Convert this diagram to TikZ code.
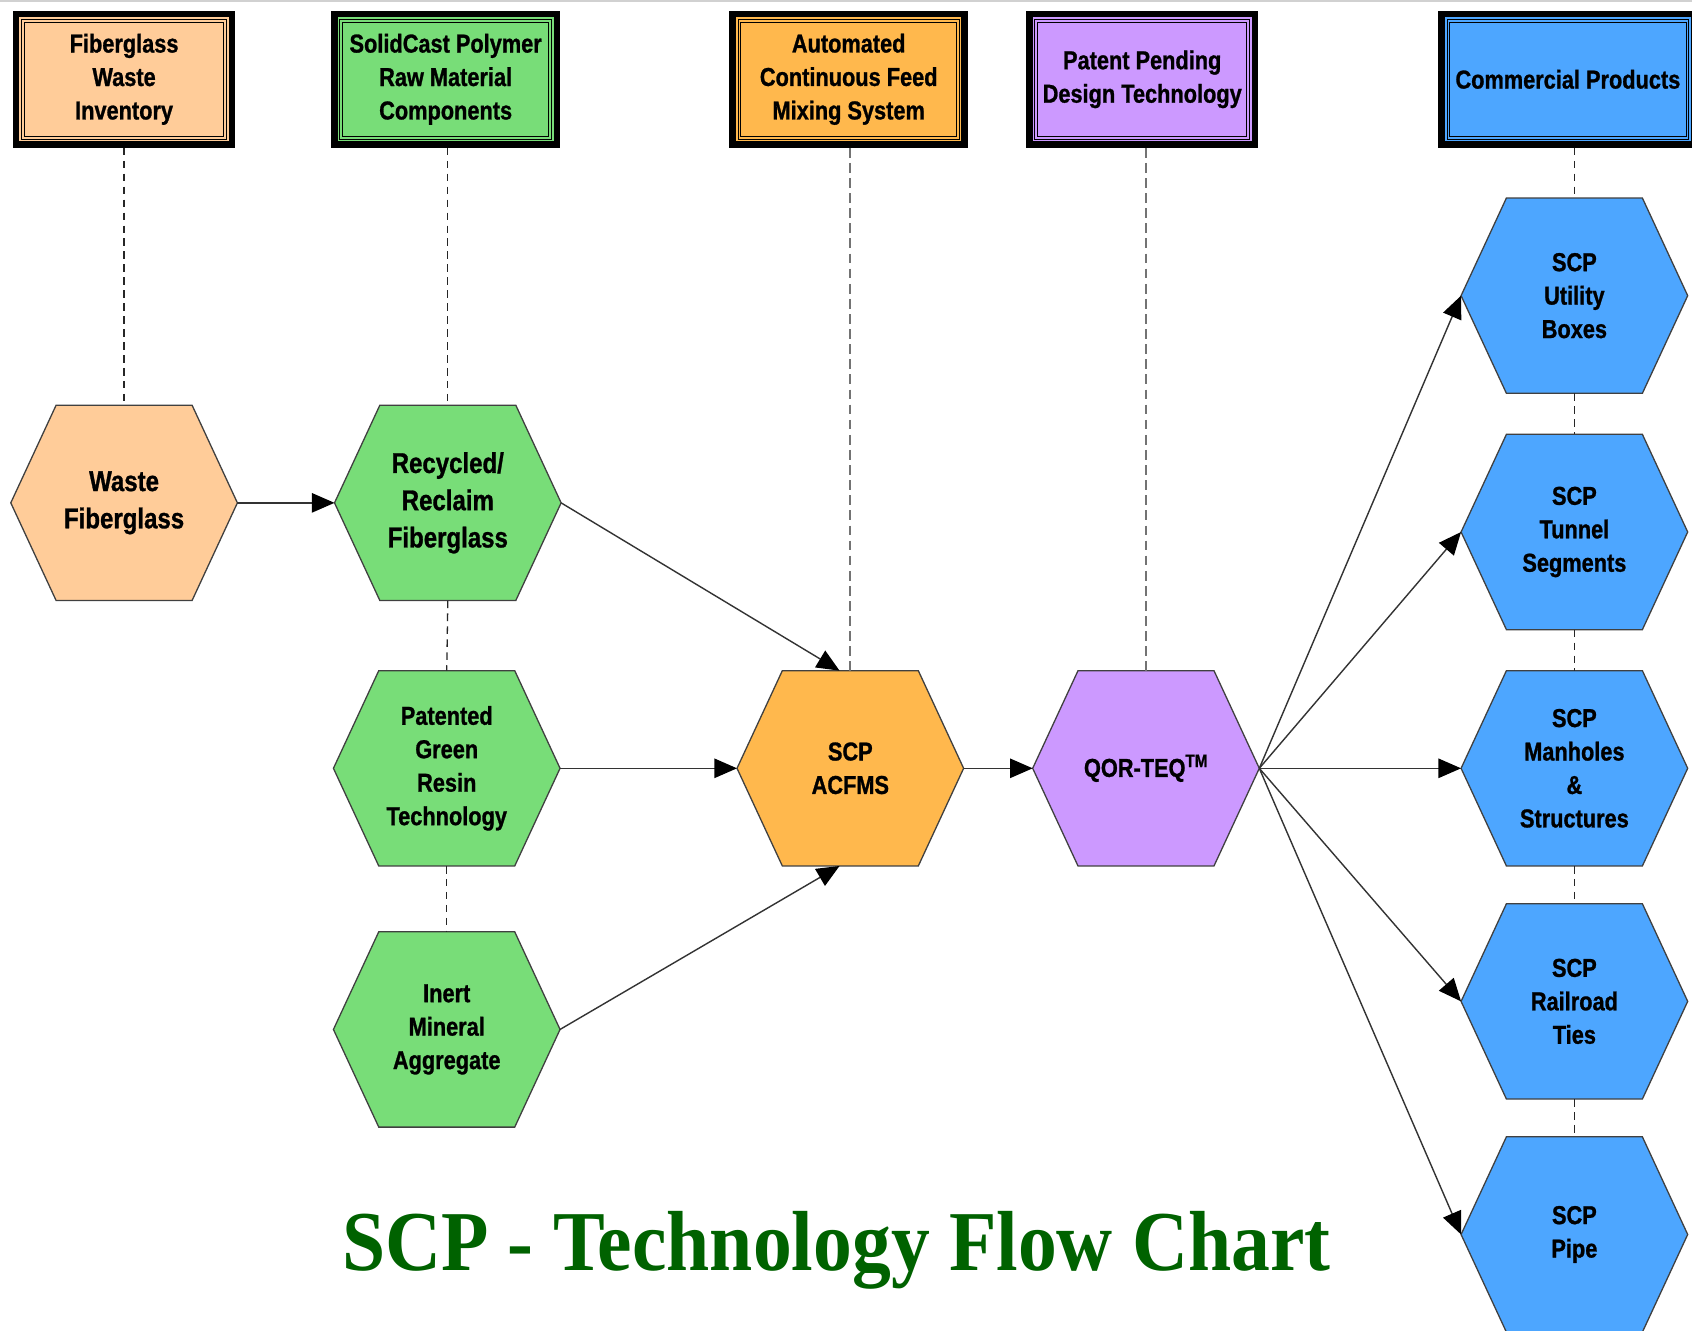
\documentclass[tikz,border=0pt]{standalone}
\usepackage{fontspec}
\usetikzlibrary{arrows.meta,calc}

\newfontfamily\lblfont[FakeStretch=0.84,FakeBold=1]{Liberation Sans}
\newfontfamily\ttlfont[FakeStretch=0.91]{Liberation Serif}

\definecolor{cpeach}{RGB}{255,204,153}
\definecolor{cgreen}{RGB}{120,221,120}
\definecolor{corange}{RGB}{255,184,77}
\definecolor{cpurple}{RGB}{204,153,255}
\definecolor{cblue}{RGB}{77,166,255}
\definecolor{ctitle}{RGB}{0,98,0}

\tikzset{
  hdr/.style={rectangle, draw=black, line width=6pt, outer sep=3pt,
    inner sep=0pt, minimum height=121pt, align=center,
    font=\lblfont\bfseries\fontsize{24}{31}\selectfont},
  hdrline/.style={draw=black, line width=0.8pt},
  hexline/.style={draw=black!75, line width=1.2pt},
  hexlbl/.style={align=center, inner sep=0pt,
    font=\lblfont\bfseries\fontsize{24}{31}\selectfont},
  biglbl/.style={align=center, inner sep=0pt,
    font=\lblfont\bfseries\fontsize{26.5}{34.5}\selectfont},
  flow/.style={draw=black!80, line width=1.3pt,
    -{Triangle[length=21pt,width=18pt,color=black]}},
  guide/.style={draw=black!85, line width=1.2pt, dash pattern=on 7pt off 5pt},
  guidegray/.style={draw=black!55, line width=1.6pt, dash pattern=on 9pt off 5pt},
}

% header box: name, centre x, outer width, colour, text
\newcommand\hdrbox[5]{%
  \node[hdr, fill=#4, minimum width=#3pt-6pt] (#1) at (#2,73.5) {#5};
  \draw[hdrline] ([shift={(8,8)}]#1.north west) rectangle ([shift={(-8,-8)}]#1.south east);
  \draw[hdrline] ([shift={(10.5,10.5)}]#1.north west) rectangle ([shift={(-10.5,-10.5)}]#1.south east);
}

% hexagon: name, centre x, centre y, colour, label style, text
\newcommand\hexnode[6]{%
  \begin{scope}[shift={(#2,#3)}]
    \path[hexline, fill=#4] (-105,0) -- (-63,-90.5) -- (63,-90.5) -- (105,0)
      -- (63,90.5) -- (-63,90.5) -- cycle;
    \node[#5] (#1) at (0,0) {#6};
    \coordinate (#1-w) at (-105,0);
    \coordinate (#1-e) at (105,0);
    \coordinate (#1-n) at (0,-90.5);
    \coordinate (#1-s) at (0,90.5);
  \end{scope}
}

\begin{document}
\begin{tikzpicture}[x=1pt,y=-1pt]
\useasboundingbox (0,0) rectangle (1568,1233);
\clip (0,0) rectangle (1568,1233);
\fill[white] (0,0) rectangle (1568,1233);
\draw[black!18, line width=2pt] (0,1) -- (1568,1);

% column headers
\hdrbox{h1}{115}{206}{cpeach}{Fiberglass\\Waste\\Inventory}
\hdrbox{h2}{413}{212}{cgreen}{SolidCast Polymer\\Raw Material\\Components}
\hdrbox{h3}{786.5}{221}{corange}{Automated\\Continuous Feed\\Mixing System}
\hdrbox{h4}{1058.5}{215}{cpurple}{Patent Pending\\Design Technology}
\hdrbox{h5}{1453}{240}{cblue}{Commercial Products}

% process steps
\hexnode{waste}{115}{466}{cpeach}{biglbl}{Waste\\Fiberglass}
\hexnode{recyc}{415}{466}{cgreen}{biglbl}{Recycled/\\Reclaim\\Fiberglass}
\hexnode{green}{414}{712}{cgreen}{hexlbl}{Patented\\Green\\Resin\\Technology}
\hexnode{inert}{414}{954}{cgreen}{hexlbl}{Inert\\Mineral\\Aggregate}
\hexnode{acf}{788}{712}{corange}{hexlbl}{SCP\\ACFMS}
\hexnode{qor}{1062}{712}{cpurple}{hexlbl}{QOR-TEQ\textsuperscript{TM}}

% products
\hexnode{util}{1459}{274}{cblue}{hexlbl}{SCP\\Utility\\Boxes}
\hexnode{tunnel}{1459}{493}{cblue}{hexlbl}{SCP\\Tunnel\\Segments}
\hexnode{manh}{1459}{712}{cblue}{hexlbl}{SCP\\Manholes\\\&\\Structures}
\hexnode{rail}{1459}{928}{cblue}{hexlbl}{SCP\\Railroad\\Ties}
\hexnode{pipe}{1459}{1144}{cblue}{hexlbl}{SCP\\Pipe}

% dashed column guides
\draw[guide] (h1.south -| waste-n) -- (waste-n);
\draw[guide] (h2.south -| recyc-n) -- (recyc-n);
\draw[guide] (recyc-s) -- (green-n);
\draw[guide] (green-s) -- (inert-n);
\draw[guidegray] (h3.south -| acf-n) -- (acf-n);
\draw[guidegray] (h4.south -| qor-n) -- (qor-n);
\draw[guide] (h5.south -| util-n) -- (util-n);
\draw[guide] (util-s) -- (tunnel-n);
\draw[guide] (tunnel-s) -- (manh-n);
\draw[guide] (manh-s) -- (rail-n);
\draw[guide] (rail-s) -- (pipe-n);

% flow arrows
\draw[flow] (waste-e) -- (recyc-w);
\draw[flow] (recyc-e) -- ($(acf-n)+(-10,0)$);
\draw[flow] (green-e) -- (acf-w);
\draw[flow] (inert-e) -- ($(acf-s)+(-10,0)$);
\draw[flow] (acf-e) -- (qor-w);
\foreach \p in {util,tunnel,manh,rail,pipe}
  \draw[flow] (qor-e) -- (\p-w);

% title
\node[anchor=base, inner sep=0pt, text=ctitle,
  font=\ttlfont\bfseries\fontsize{79}{80}\selectfont] (title) at (775,1177)
  {SCP - Technology Flow Chart};
\end{tikzpicture}
\end{document}
